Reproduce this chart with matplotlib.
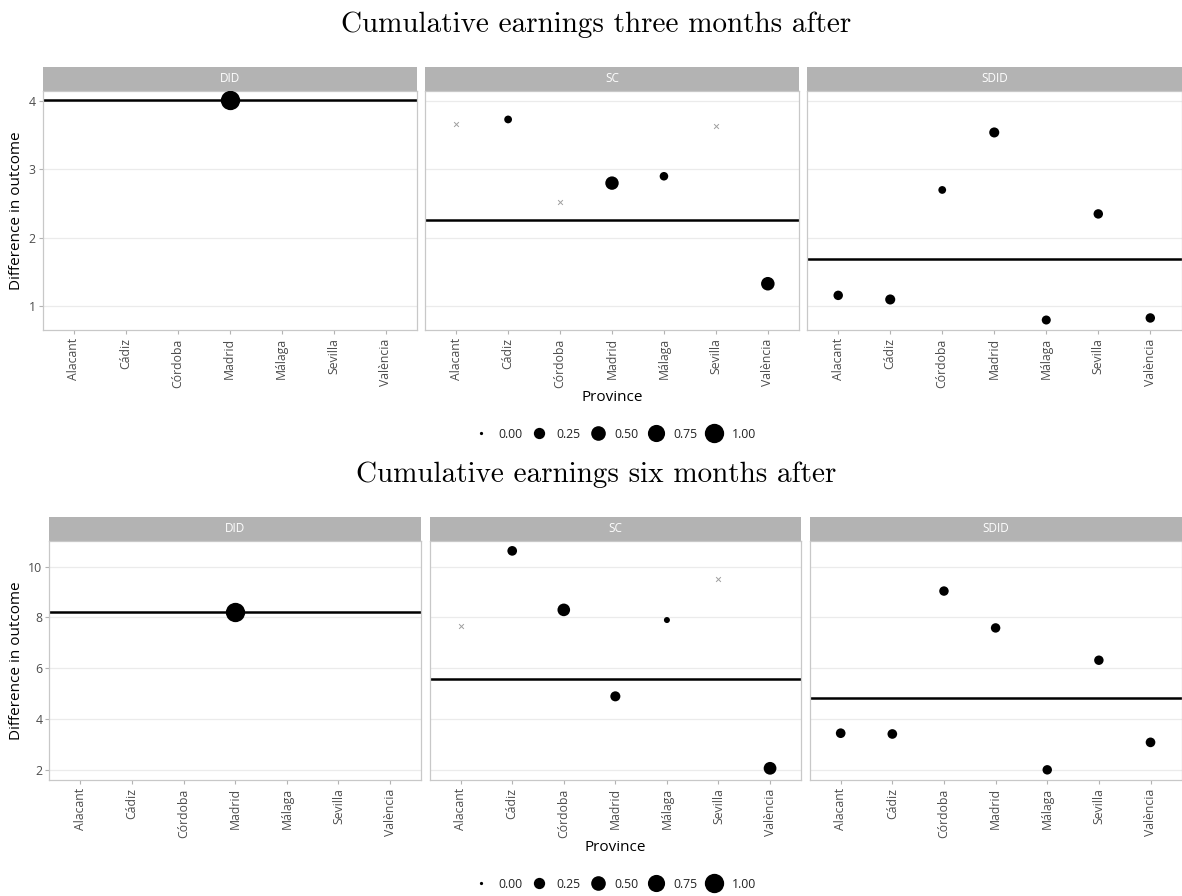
import numpy as np
import matplotlib
matplotlib.use("Agg")
import matplotlib.pyplot as plt
from matplotlib.lines import Line2D

plt.rcParams['font.family'] = ['Open Sans', 'DejaVu Sans']

provinces = ["Alacant", "Cádiz", "Córdoba", "Madrid", "Málaga", "Sevilla", "València"]
methods = ["DID", "SC", "SDID"]

# three months after
m3_did_att = 4.02
m3_did_y = [4.02]
m3_did_w = [1.0]
m3_sc_att = 2.255
m3_sc_y = [3.67, 3.73, 2.53, 2.80, 2.90, 3.63, 1.33]
m3_sc_w = [0.0, 0.08, 0.0, 0.40, 0.11, 0.0, 0.41]
m3_sdid_att = 1.69
m3_sdid_y = [1.16, 1.10, 2.70, 3.54, 0.80, 2.35, 0.83]
m3_sdid_w = [0.15, 0.18, 0.08, 0.18, 0.13, 0.15, 0.15]

# six months after
m6_did_att = 8.23
m6_did_y = [8.23]
m6_did_w = [1.0]
m6_sc_att = 5.59
m6_sc_y = [7.65, 10.62, 8.30, 4.90, 7.90, 9.53, 2.07]
m6_sc_w = [0.0, 0.16, 0.34, 0.18, 0.03, 0.0, 0.35]
m6_sdid_att = 4.85
m6_sdid_y = [3.45, 3.42, 9.04, 7.59, 2.01, 6.32, 3.09]
m6_sdid_w = [0.16, 0.16, 0.15, 0.15, 0.15, 0.15, 0.16]

legend_w = [0.0, 0.25, 0.50, 0.75, 1.00]

W, H = 1182, 896


def diam(w):
    # ggplot-like area scale, range 1..6
    return 2.32 * (1 + 5 * np.sqrt(np.asarray(w, dtype=float)))


def rect(x0, y0, x1, y1):
    return [x0 / W, 1 - y1 / H, (x1 - x0) / W, (y1 - y0) / H]


fig = plt.figure(figsize=(W / 100, H / 100), dpi=100)

blocks = [
    {"title": "Cumulative earnings three months after", "ty": 25,
     "xs": [(42.7, 416.7), (425, 799), (807, 1181.5)],
     "strip": (66.7, 90.7), "bottom": 330, "ylim": (0.654, 4.15),
     "yticks": [1, 2, 3, 4], "leg_y": 434,
     "data": [([3], m3_did_y, m3_did_w, m3_did_att),
              (range(7), m3_sc_y, m3_sc_w, m3_sc_att),
              (range(7), m3_sdid_y, m3_sdid_w, m3_sdid_att)]},
    {"title": "Cumulative earnings six months after", "ty": 475,
     "xs": [(49.3, 421), (429.7, 801), (809.7, 1181.5)],
     "strip": (516.7, 540.7), "bottom": 780, "ylim": (1.61, 11.02),
     "yticks": [2, 4, 6, 8, 10], "leg_y": 884,
     "data": [([3], m6_did_y, m6_did_w, m6_did_att),
              (range(7), m6_sc_y, m6_sc_w, m6_sc_att),
              (range(7), m6_sdid_y, m6_sdid_w, m6_sdid_att)]},
]

for b in blocks:
    fig.text(0.5045, 1 - b["ty"] / H, b["title"], family="cmr10", fontsize=21,
             ha="center", va="center")
    s0, s1 = b["strip"]
    for i, (x0, x1) in enumerate(b["xs"]):
        sax = fig.add_axes(rect(x0, s0, x1, s1))
        sax.set_facecolor("#B3B3B3")
        sax.set_xticks([]); sax.set_yticks([])
        for sp in sax.spines.values():
            sp.set_visible(False)
        sax.text(0.5, 0.5, methods[i], color="white", fontsize=8.5,
                 ha="center", va="center", transform=sax.transAxes)

        ax = fig.add_axes(rect(x0, s1, x1, b["bottom"]))
        xpos, yv, wv, att = b["data"][i]
        xpos = np.asarray(list(xpos))
        yv = np.asarray(yv); wv = np.asarray(wv)
        ax.axhline(att, color="black", lw=1.8, zorder=2)
        zero = wv == 0
        ax.scatter(xpos[~zero], yv[~zero], s=diam(wv[~zero]) ** 2,
                   color="black", linewidths=0, zorder=3)
        ax.scatter(xpos[zero], yv[zero], marker="x", s=12, color="#A0A0A0",
                   linewidths=0.7, zorder=3)
        ax.set_xlim(-0.6, 6.6)
        ax.set_ylim(*b["ylim"])
        ax.set_yticks(b["yticks"])
        ax.grid(axis="y", color="#EBEBEB", lw=0.9)
        ax.set_axisbelow(True)
        ax.set_xticks(range(7))
        ax.set_xticklabels(provinces, rotation=90, fontsize=8.8, color="#4D4D4D")
        ax.tick_params(axis="x", length=3, color="#B3B3B3", pad=3)
        ax.tick_params(axis="y", length=3, color="#B3B3B3", labelsize=8.8,
                       labelcolor="#4D4D4D", pad=2)
        for sp in ax.spines.values():
            sp.set_color("#C8C8C8"); sp.set_linewidth(0.9)
        if i == 0:
            ax.set_ylabel("Difference in outcome", fontsize=11, labelpad=3)
        else:
            ax.tick_params(axis="y", length=0, labelleft=False)
        if i == 1:
            ax.set_xlabel("Province", fontsize=11, labelpad=2)

    handles = [Line2D([], [], marker="o", linestyle="none", color="black",
                      markeredgewidth=0, markersize=diam(w)) for w in legend_w]
    fig.legend(handles, [f"{w:.2f}" for w in legend_w], ncol=5, frameon=False,
               loc="center", bbox_to_anchor=(0.518, 1 - b["leg_y"] / H),
               fontsize=8.8, handletextpad=0.4, columnspacing=0.4,
               handlelength=2.0, labelcolor="#222222")

fig.savefig("out.png", dpi=100)
